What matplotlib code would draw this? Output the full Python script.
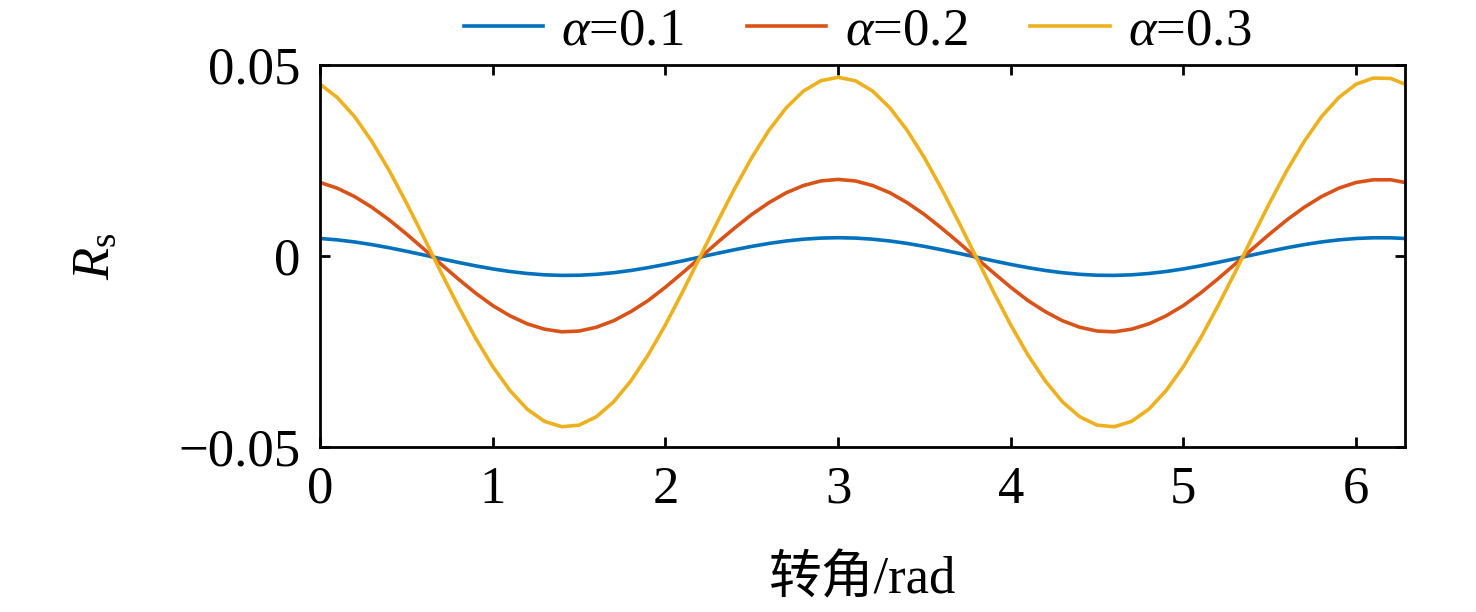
import matplotlib
matplotlib.use("Agg")
import matplotlib.pyplot as plt

plt.rcParams['font.family'] = ['Liberation Serif', 'Noto Sans CJK SC', 'DejaVu Sans']
plt.rcParams['mathtext.fontset'] = 'custom'
plt.rcParams['mathtext.rm'] = 'Liberation Serif'
plt.rcParams['mathtext.it'] = 'Liberation Serif:italic'
plt.rcParams['mathtext.bf'] = 'Liberation Serif:bold'

# rotation angle (rad)
x = [0.0, 0.1, 0.2, 0.3, 0.4, 0.5, 0.6, 0.7, 0.8, 0.9,
     1.0, 1.1, 1.2, 1.3, 1.4, 1.5, 1.6, 1.7, 1.8, 1.9,
     2.0, 2.1, 2.2, 2.3, 2.4, 2.5, 2.6, 2.7, 2.8, 2.9,
     3.0, 3.1, 3.2, 3.3, 3.4, 3.5, 3.6, 3.7, 3.8, 3.9,
     4.0, 4.1, 4.2, 4.3, 4.4, 4.5, 4.6, 4.7, 4.8, 4.9,
     5.0, 5.1, 5.2, 5.3, 5.4, 5.5, 5.6, 5.7, 5.8, 5.9,
     6.0, 6.1, 6.2, 6.283]

rs_01 = [0.00460, 0.00423, 0.00369, 0.00299, 0.00217, 0.00125, 0.00028, -0.00071, -0.00167, -0.00258,
         -0.00339, -0.00407, -0.00459, -0.00494, -0.00509, -0.00505, -0.00481, -0.00439, -0.00380, -0.00306,
         -0.00221, -0.00127, -0.00029, 0.00069, 0.00164, 0.00252, 0.00330, 0.00394, 0.00441, 0.00470,
         0.00480, 0.00470, 0.00441, 0.00394, 0.00330, 0.00252, 0.00164, 0.00069, -0.00029, -0.00127,
         -0.00221, -0.00306, -0.00380, -0.00439, -0.00481, -0.00505, -0.00509, -0.00494, -0.00459, -0.00407,
         -0.00339, -0.00258, -0.00167, -0.00071, 0.00028, 0.00125, 0.00217, 0.00299, 0.00369, 0.00423,
         0.00460, 0.00478, 0.00477, 0.00460]

rs_02 = [0.0193, 0.0178, 0.0156, 0.0128, 0.0095, 0.0058, 0.0019, -0.0021, -0.0060, -0.0097,
         -0.0130, -0.0157, -0.0178, -0.0192, -0.0199, -0.0197, -0.0187, -0.0170, -0.0146, -0.0117,
         -0.0082, -0.0044, -0.0005, 0.0035, 0.0073, 0.0109, 0.0140, 0.0166, 0.0185, 0.0197,
         0.0201, 0.0197, 0.0185, 0.0166, 0.0140, 0.0109, 0.0073, 0.0035, -0.0005, -0.0044,
         -0.0082, -0.0117, -0.0146, -0.0170, -0.0187, -0.0197, -0.0199, -0.0192, -0.0178, -0.0157,
         -0.0130, -0.0097, -0.0060, -0.0021, 0.0019, 0.0058, 0.0095, 0.0128, 0.0156, 0.0178,
         0.0193, 0.0200, 0.0200, 0.0193]

rs_03 = [0.0451, 0.0416, 0.0366, 0.0301, 0.0225, 0.0140, 0.0050, -0.0042, -0.0131, -0.0215,
         -0.0290, -0.0353, -0.0402, -0.0434, -0.0448, -0.0444, -0.0422, -0.0383, -0.0328, -0.0260,
         -0.0181, -0.0094, -0.0003, 0.0088, 0.0176, 0.0258, 0.0330, 0.0389, 0.0433, 0.0460,
         0.0469, 0.0460, 0.0433, 0.0389, 0.0330, 0.0258, 0.0176, 0.0088, -0.0003, -0.0094,
         -0.0181, -0.0260, -0.0328, -0.0383, -0.0422, -0.0444, -0.0448, -0.0434, -0.0402, -0.0353,
         -0.0290, -0.0215, -0.0131, -0.0042, 0.0050, 0.0140, 0.0225, 0.0301, 0.0366, 0.0416,
         0.0451, 0.0467, 0.0466, 0.0451]

labels = [r'$\alpha$=0.1', r'$\alpha$=0.2', r'$\alpha$=0.3']
colors = ['#0072BD', '#D95319', '#EDB120']

xticks = [0, 1, 2, 3, 4, 5, 6]
yticks = [-0.05, 0, 0.05]
ytick_labels = ['\u22120.05', '0', '0.05']

fig = plt.figure(figsize=(14.76, 6.12), dpi=100)
ax = fig.add_axes([0.2168, 0.2704, 0.9519 - 0.2168, 0.893 - 0.2704])

for ys, lab, c in zip([rs_01, rs_02, rs_03], labels, colors):
    ax.plot(x, ys, color=c, lw=2.6, label=lab, solid_joinstyle='round')

ax.set_xlim(0, 6.2832)
ax.set_ylim(-0.05, 0.05)
ax.set_xticks(xticks)
ax.set_xticklabels([str(t) for t in xticks])
ax.set_yticks(yticks)
ax.set_yticklabels(ytick_labels)

for s in ax.spines.values():
    s.set_linewidth(2.0)
ax.tick_params(direction='in', length=7, width=2.0, labelsize=38,
               top=True, right=True, pad=14)

ax.set_xlabel('转角/rad', fontsize=38, labelpad=30)
ax.set_ylabel(r'$R_{\mathrm{s}}$', fontsize=38, labelpad=42)

leg = fig.legend(loc='center', bbox_to_anchor=(0.581, 0.948), ncol=3, frameon=False,
                 fontsize=38, handlelength=1.5, handletextpad=0.35, columnspacing=1.2,
                 borderaxespad=0, borderpad=0)

fig.savefig('out.png', dpi=100)
